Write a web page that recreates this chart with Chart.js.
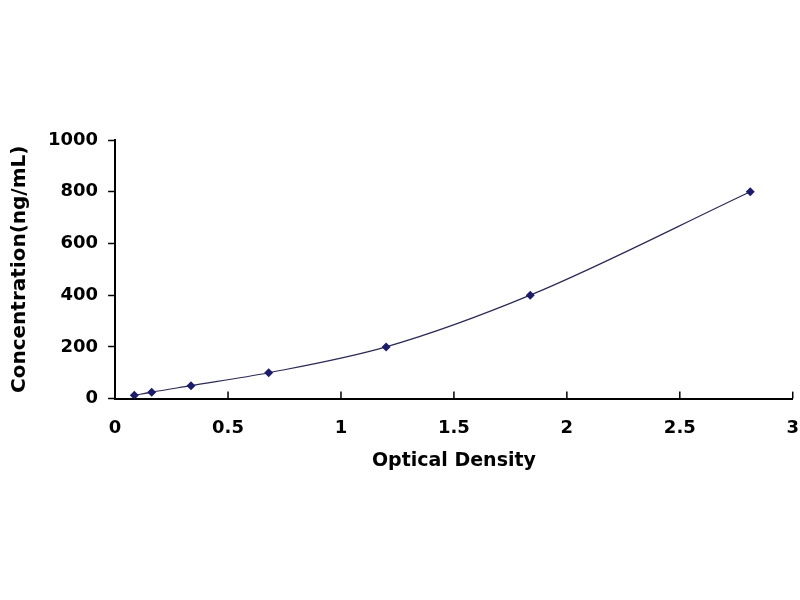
<!DOCTYPE html>
<html>
  <head>
    <meta charset="utf-8" />
    <title>Standard Curve</title>
    <style>
      body { margin: 0; background: #fff; }
      #wrap { width: 800px; height: 600px; }
    </style>
  </head>
  <body>
    <div id="wrap"><canvas id="chart"></canvas></div>
    <script src="https://cdn.jsdelivr.net/npm/chart.js@4.4.0/dist/chart.umd.min.js"></script>
    <script>
      const odValues = [0.085, 0.162, 0.336, 0.68, 1.2, 1.838, 2.812];
      const concValues = [12.5, 25, 50, 100, 200, 400, 800];
      const xTicks = [0, 0.5, 1, 1.5, 2, 2.5, 3];
      const yTicks = [0, 200, 400, 600, 800, 1000];

      const points = odValues.map((x, i) => ({ x: x, y: concValues[i] }));

      // x axis tick marks point up into the plot, like the original
      const innerTicks = {
        id: "innerTicks",
        afterDraw(chart) {
          const ctx = chart.ctx;
          const xs = chart.scales.x;
          const bottom = chart.chartArea.bottom;
          ctx.save();
          ctx.strokeStyle = "#000";
          ctx.lineWidth = 1.5;
          xTicks.forEach((v) => {
            const px = xs.getPixelForValue(v);
            ctx.beginPath();
            ctx.moveTo(px, bottom);
            ctx.lineTo(px, bottom - 7);
            ctx.stroke();
          });
          ctx.restore();
        },
      };

      const fam = "DejaVu Sans, Verdana, sans-serif";
      const tickFont = { family: fam, weight: "bold", size: 18 };

      new Chart(document.getElementById("chart"), {
        type: "scatter",
        data: {
          datasets: [
            {
              data: points,
              showLine: true,
              tension: 0.4,
              cubicInterpolationMode: "monotone",
              borderColor: "#2b2b55",
              borderWidth: 1.2,
              backgroundColor: "#1c1c6b",
              pointStyle: "rectRot",
              pointRadius: 4.5,
              pointBorderWidth: 0,
            },
          ],
        },
        options: {
          responsive: true,
          maintainAspectRatio: false,
          animation: false,
          layout: { padding: { top: 140, bottom: 128, right: 0, left: 4 } },
          plugins: { legend: { display: false }, tooltip: { enabled: false } },
          scales: {
            x: {
              type: "linear",
              min: 0,
              max: 3,
              afterBuildTicks: (s) => { s.ticks = xTicks.map((v) => ({ value: v })); },
              // outward ticks hidden: they only push the labels down
              grid: { drawOnChartArea: false, drawTicks: true, tickLength: 18, tickColor: "rgba(0,0,0,0)", color: "#000" },
              border: { color: "#000", width: 2 },
              ticks: { color: "#000", font: tickFont, padding: 1, maxRotation: 0, callback: (v) => String(v) },
              title: { display: true, text: "Optical Density", color: "#000", font: { family: fam, weight: "bold", size: 19 }, padding: { top: 9, bottom: 0 } },
            },
            y: {
              type: "linear",
              min: 0,
              max: 1000,
              afterBuildTicks: (s) => { s.ticks = yTicks.map((v) => ({ value: v })); },
              grid: { drawOnChartArea: false, drawTicks: true, tickLength: 7, tickWidth: 1.5, color: "#000" },
              border: { color: "#000", width: 2 },
              ticks: { color: "#000", font: tickFont, padding: 10, callback: (v) => String(v) },
              title: { display: true, text: "Concentration(ng/mL)", color: "#000", font: { family: fam, weight: "bold", size: 20 }, padding: { bottom: 6 } },
            },
          },
        },
        plugins: [innerTicks],
      });
    </script>
  </body>
</html>
